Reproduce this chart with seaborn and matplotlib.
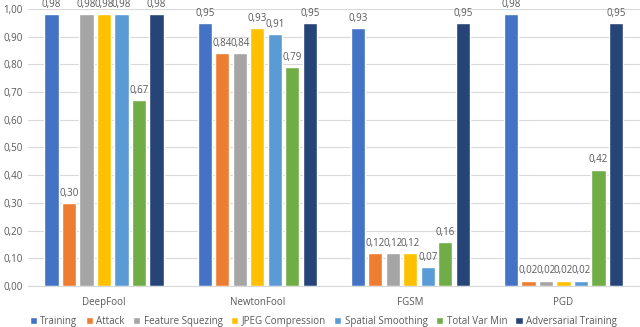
import matplotlib
matplotlib.use("Agg")
import matplotlib.pyplot as plt
import pandas as pd
import seaborn as sns

# attacks on the x axis, one bar per defence
attacks = ["DeepFool", "NewtonFool", "FGSM", "PGD"]
defences = ["Training", "Attack", "Feature Squezing", "JPEG Compression",
            "Spatial Smoothing", "Total Var Min", "Adversarial Training"]

training = [0.98, 0.95, 0.93, 0.98]
attack = [0.30, 0.84, 0.12, 0.02]
feature_squeezing = [0.98, 0.84, 0.12, 0.02]
jpeg_compression = [0.98, 0.93, 0.12, 0.02]
spatial_smoothing = [0.98, 0.91, 0.07, 0.02]
total_var_min = [0.67, 0.79, 0.16, 0.42]
adversarial_training = [0.98, 0.95, 0.95, 0.95]

colors = ["#4472C4", "#ED7D31", "#A5A5A5", "#FFC000",
          "#5B9BD5", "#70AD47", "#264478"]

series = [training, attack, feature_squeezing, jpeg_compression,
          spatial_smoothing, total_var_min, adversarial_training]
rows = []
for name, vals in zip(defences, series):
    for a, v in zip(attacks, vals):
        rows.append({"attack": a, "defence": name, "value": v})
df = pd.DataFrame(rows)

sns.set_style("white")
plt.rcParams["font.family"] = ["Open Sans", "DejaVu Sans"]
text_col = "#595959"

fig = plt.figure(figsize=(6.4, 3.27), dpi=100)
ax = fig.add_axes([0.043, 0.125, 0.957, 0.848])

sns.barplot(data=df, x="attack", y="value", hue="defence",
            hue_order=defences, order=attacks, palette=colors,
            width=0.8, gap=0.18, ax=ax, legend=True, saturation=1)

for cont in ax.containers:
    labels = [f"{v:.2f}".replace(".", ",") for v in cont.datavalues]
    ax.bar_label(cont, labels=labels, padding=3, fontsize=7, color=text_col)

ax.set_ylim(0, 1.0)
ax.set_xlim(-0.5, 3.5)
ticks = [i / 10 for i in range(11)]
ax.set_yticks(ticks)
ax.set_yticklabels([f"{t:.2f}".replace(".", ",") for t in ticks])
ax.tick_params(axis="both", labelsize=7, colors=text_col, length=0)
ax.tick_params(axis="x", pad=8)
ax.yaxis.grid(True, color="#D9D9D9", linewidth=0.8)
ax.set_axisbelow(True)
for s in ["top", "right", "left"]:
    ax.spines[s].set_visible(False)
ax.spines["bottom"].set_color("#D9D9D9")
ax.set_xlabel("")
ax.set_ylabel("")

handles, labels = ax.get_legend_handles_labels()
ax.get_legend().remove()
fig.legend(handles, labels, loc="lower center", bbox_to_anchor=(0.505, -0.02),
           ncol=7, frameon=False, fontsize=7, handlelength=0.75,
           handleheight=0.75, handletextpad=0.35, columnspacing=0.85,
           labelcolor=text_col, borderpad=0.2)

fig.savefig("out.png", dpi=100)
